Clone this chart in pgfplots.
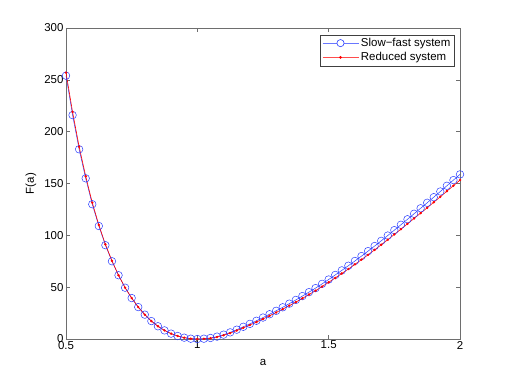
\documentclass[border=0pt]{standalone}
\usepackage{fontspec}
\setmainfont{Liberation Sans}
\usepackage{pgfplots}
\usepackage{pgfplotstable}
\pgfplotsset{compat=1.18}

% a, slow-fast, reduced
\pgfplotstableread{
a      slowfast  reduced
0.500  254.0  257.0
0.525  216.0  219.0
0.550  183.0  185.5
0.575  155.0  157.0
0.600  130.0  131.5
0.625  109.0  110.0
0.650   90.5   91.3
0.675   75.0   75.4
0.700   61.5   61.5
0.725   49.5   49.5
0.750   39.5   39.5
0.775   30.8   30.8
0.800   23.5   23.5
0.825   17.3   17.3
0.850   12.3   12.3
0.875    8.3    8.3
0.900    5.2    5.2
0.925    2.9    2.9
0.950    1.3    1.3
0.975    0.3    0.3
1.000    0.0    0.0
1.025    0.3    0.2
1.050    1.0    0.7
1.075    2.3    1.9
1.100    4.2    3.65
1.125    6.4    5.7
1.150    9.0    8.2
1.175   11.8   10.8
1.200   14.6   13.5
1.225   17.6   16.4
1.250   20.7   19.3
1.275   23.9   22.4
1.300   27.2   25.6
1.325   30.6   28.8
1.350   34.1   32.2
1.375   37.7   35.6
1.400   41.4   39.2
1.425   45.2   42.9
1.450   49.1   46.6
1.475   53.2   50.6
1.500   57.4   54.7
1.525   61.8   58.9
1.550   66.2   63.2
1.575   70.7   67.5
1.600   75.3   72.0
1.625   80.0   76.6
1.650   84.8   81.2
1.675   89.7   86.0
1.700   94.7   90.9
1.725   99.8   95.8
1.750  105.0  100.9
1.775  110.2  105.9
1.800  115.5  111.1
1.825  120.8  116.3
1.850  126.1  121.4
1.875  131.4  126.6
1.900  136.8  131.9
1.925  142.3  137.2
1.950  147.8  142.6
1.975  153.3  147.9
2.000  158.8  153.3
}\Fdata

\definecolor{mblue}{RGB}{40,60,255}
\definecolor{axgray}{RGB}{110,110,110}

\begin{document}
\begin{tikzpicture}[x=1bp,y=1bp]
\useasboundingbox (-66,-43) rectangle (441,339);
\begin{axis}[
    at={(0,0)}, anchor=south west,
    scale only axis,
    width=394bp, height=311bp,
    xmin=0.5, xmax=2, ymin=0, ymax=300,
    xtick={0.5,1,1.5,2},
    ytick={0,50,100,150,200,250,300},
    /pgf/number format/assume math mode=true,
    tick align=inside,
    major tick length=4bp,
    axis line style={axgray, line width=0.8bp},
    tick style={axgray, line width=0.6bp},
    every tick label/.append style={font=\fontsize{11.5}{13}\selectfont},
    xticklabel style={yshift=1.5bp},
    yticklabel style={xshift=1bp},
    xlabel={a}, ylabel={F(a)},
    label style={font=\fontsize{11.5}{13}\selectfont},
    xlabel style={at={(axis description cs:0.5,-0.077)}, anchor=center},
    ylabel style={at={(axis description cs:-0.089,0.5)}, anchor=center},
    legend style={at={(axis description cs:0.985,0.979)}, anchor=north east,
        draw=black!75, font=\fontsize{11.5}{13}\selectfont,
        inner sep=1.5bp, row sep=0.5bp},
    legend cell align=left,
]
\addplot[mblue, line width=0.5bp, mark=o, mark size=3.8bp,
    legend image code/.code={%
        \draw[mblue!70, line width=0.9bp] (0bp,0bp) -- (36bp,0bp);
        \draw[mblue, line width=0.6bp, fill=white] (18bp,0bp) circle[radius=3.6bp];}]
    table[x=a, y=slowfast] {\Fdata};
\addplot[red, line width=0.6bp, mark=*, mark size=0.9bp,
    legend image code/.code={%
        \draw[red!70, line width=0.9bp] (0bp,0bp) -- (36bp,0bp);
        \fill[red] (18bp,0bp) circle[radius=1bp];}]
    table[x=a, y=reduced] {\Fdata};
\legend{Slow−fast system, Reduced system}
\end{axis}
\end{tikzpicture}
\end{document}
